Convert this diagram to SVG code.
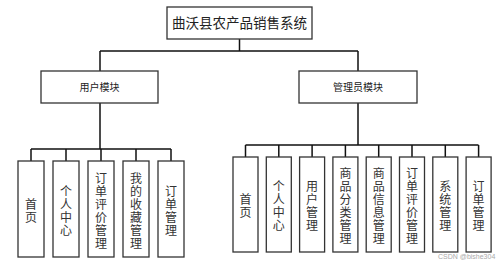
<svg xmlns="http://www.w3.org/2000/svg" width="500" height="265" viewBox="0 0 500 265">
<style>
.box{fill:#fff;stroke:#333;stroke-width:1.3}
.ln{stroke:#111;stroke-width:1.5;fill:none}
.title{font-family:"Liberation Serif","Noto Sans CJK SC",serif;font-size:13.5px;fill:#222;text-anchor:middle}
.mod{font-family:"Liberation Sans","Noto Sans CJK SC",sans-serif;font-size:10px;fill:#222;text-anchor:middle}
.v{font-family:"Liberation Serif","Noto Sans CJK SC",serif;font-size:12px;fill:#333;text-anchor:middle}
.wm{font-family:"Liberation Sans",sans-serif;font-size:7px;fill:#aaa}
</style>
<rect width="500" height="265" fill="#fff"/>
<g id="connectors">
<path class="ln" d="M239.5 39V51M100 51H358M100 51V71M358 51V71"/>
<path class="ln" d="M100 103V149M31 149H171M31 149V161M66 149V161M101 149V161M136 149V161M171 149V161"/>
<path class="ln" d="M358 103V145M245.5 145H478.5M245.5 145V157M278.8 145V157M312.1 145V157M345.4 145V157M378.7 145V157M412 145V157M445.3 145V157M478.6 145V157"/>
</g>
<g id="root"><rect class="box" x="167" y="7" width="145" height="32"/><text class="title" x="239.5" y="28">曲沃县农产品销售系统</text></g>
<g id="user"><rect class="box" x="41" y="71" width="117" height="32"/><text class="mod" x="99.5" y="90.5">用户模块</text></g>
<g id="admin"><rect class="box" x="299" y="71" width="118" height="32"/><text class="mod" x="358" y="90.5">管理员模块</text></g>
<g id="u1"><rect class="box" x="18" y="161" width="26" height="96"/><text class="v" x="31" y="208.5"><tspan x="31">首</tspan><tspan x="31" dy="13">页</tspan></text></g>
<g id="u2"><rect class="box" x="53" y="161" width="26" height="96"/><text class="v" x="66" y="195.5"><tspan x="66">个</tspan><tspan x="66" dy="13">人</tspan><tspan x="66" dy="13">中</tspan><tspan x="66" dy="13">心</tspan></text></g>
<g id="u3"><rect class="box" x="88" y="161" width="26" height="96"/><text class="v" x="101" y="182.5"><tspan x="101">订</tspan><tspan x="101" dy="13">单</tspan><tspan x="101" dy="13">评</tspan><tspan x="101" dy="13">价</tspan><tspan x="101" dy="13">管</tspan><tspan x="101" dy="13">理</tspan></text></g>
<g id="u4"><rect class="box" x="123" y="161" width="26" height="96"/><text class="v" x="136" y="182.5"><tspan x="136">我</tspan><tspan x="136" dy="13">的</tspan><tspan x="136" dy="13">收</tspan><tspan x="136" dy="13">藏</tspan><tspan x="136" dy="13">管</tspan><tspan x="136" dy="13">理</tspan></text></g>
<g id="u5"><rect class="box" x="158" y="161" width="26" height="96"/><text class="v" x="171" y="195.5"><tspan x="171">订</tspan><tspan x="171" dy="13">单</tspan><tspan x="171" dy="13">管</tspan><tspan x="171" dy="13">理</tspan></text></g>
<g id="a1"><rect class="box" x="233" y="157" width="25" height="95"/><text class="v" x="245.5" y="203.5"><tspan x="245.5">首</tspan><tspan x="245.5" dy="13">页</tspan></text></g>
<g id="a2"><rect class="box" x="266.3" y="157" width="25" height="95"/><text class="v" x="278.8" y="190.5"><tspan x="278.8">个</tspan><tspan x="278.8" dy="13">人</tspan><tspan x="278.8" dy="13">中</tspan><tspan x="278.8" dy="13">心</tspan></text></g>
<g id="a3"><rect class="box" x="299.6" y="157" width="25" height="95"/><text class="v" x="312.1" y="190.5"><tspan x="312.1">用</tspan><tspan x="312.1" dy="13">户</tspan><tspan x="312.1" dy="13">管</tspan><tspan x="312.1" dy="13">理</tspan></text></g>
<g id="a4"><rect class="box" x="332.9" y="157" width="25" height="95"/><text class="v" x="345.4" y="177.5"><tspan x="345.4">商</tspan><tspan x="345.4" dy="13">品</tspan><tspan x="345.4" dy="13">分</tspan><tspan x="345.4" dy="13">类</tspan><tspan x="345.4" dy="13">管</tspan><tspan x="345.4" dy="13">理</tspan></text></g>
<g id="a5"><rect class="box" x="366.2" y="157" width="25" height="95"/><text class="v" x="378.7" y="177.5"><tspan x="378.7">商</tspan><tspan x="378.7" dy="13">品</tspan><tspan x="378.7" dy="13">信</tspan><tspan x="378.7" dy="13">息</tspan><tspan x="378.7" dy="13">管</tspan><tspan x="378.7" dy="13">理</tspan></text></g>
<g id="a6"><rect class="box" x="399.5" y="157" width="25" height="95"/><text class="v" x="412" y="177.5"><tspan x="412">订</tspan><tspan x="412" dy="13">单</tspan><tspan x="412" dy="13">评</tspan><tspan x="412" dy="13">价</tspan><tspan x="412" dy="13">管</tspan><tspan x="412" dy="13">理</tspan></text></g>
<g id="a7"><rect class="box" x="432.8" y="157" width="25" height="95"/><text class="v" x="445.3" y="190.5"><tspan x="445.3">系</tspan><tspan x="445.3" dy="13">统</tspan><tspan x="445.3" dy="13">管</tspan><tspan x="445.3" dy="13">理</tspan></text></g>
<g id="a8"><rect class="box" x="466.1" y="157" width="25" height="95"/><text class="v" x="478.6" y="190.5"><tspan x="478.6">订</tspan><tspan x="478.6" dy="13">单</tspan><tspan x="478.6" dy="13">管</tspan><tspan x="478.6" dy="13">理</tspan></text></g>
<text class="wm" x="438" y="259">CSDN @bishe304</text>
</svg>
